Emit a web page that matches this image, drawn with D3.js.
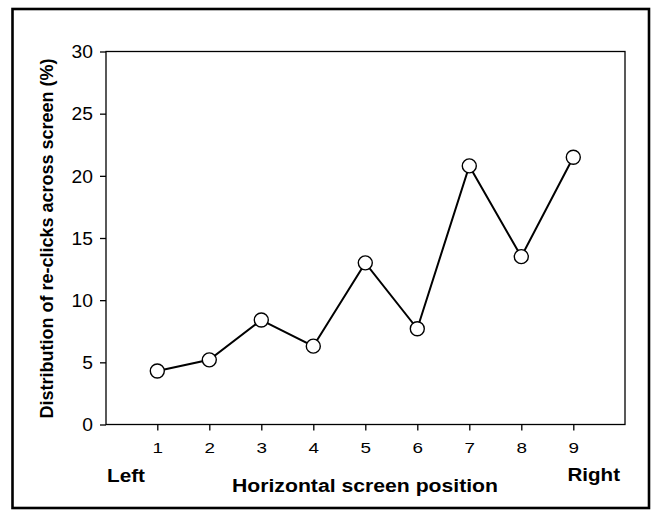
<!DOCTYPE html>
<html><head><meta charset="utf-8">
<script src="https://cdn.jsdelivr.net/npm/d3@7"></script>
<style>body{margin:0;background:#fff}svg{display:block}text{font-family:"Liberation Sans",Arial,sans-serif;fill:#000}</style>
</head><body><svg id="c" width="651" height="510"></svg>
<script>
const positions = [1, 2, 3, 4, 5, 6, 7, 8, 9];
const values = [4.3, 5.2, 8.4, 6.3, 13.0, 7.7, 20.8, 13.5, 21.5];
const yTicks = [0, 5, 10, 15, 20, 25, 30];
const xTicks = [1, 2, 3, 4, 5, 6, 7, 8, 9];
const yTitle = "Distribution of re-clicks across screen (%)";
const xTitle = "Horizontal screen position";
const leftLabel = "Left", rightLabel = "Right";

const svg = d3.select("#c");
const L = 106, R = 625, T = 51.5, B = 424.5;
const x = d3.scaleLinear().domain([0, 10]).range([L - 0.7, R + 0.3]);
const y = d3.scaleLinear().domain([0, 30]).range([B, T]);

function stretch(sel, k) {
  sel.each(function () {
    const w = this.getComputedTextLength();
    d3.select(this).attr("textLength", w * k).attr("lengthAdjust", "spacingAndGlyphs");
  });
}

// outer border
svg.append("rect").attr("x", 12.5).attr("y", 9).attr("width", 636.5).attr("height", 499)
  .attr("fill", "none").attr("stroke", "#000").attr("stroke-width", 2.6);

// plot frame
svg.append("rect").attr("x", L).attr("y", T).attr("width", R - L).attr("height", B - T)
  .attr("fill", "none").attr("stroke", "#000").attr("stroke-width", 1.3);

// y axis
const yAxis = svg.append("g").attr("transform", `translate(${L},0)`)
  .call(d3.axisLeft(y).tickValues(yTicks).tickSize(6).tickPadding(7).tickFormat(d3.format("d")));
yAxis.select(".domain").remove();
yAxis.selectAll("line").attr("stroke", "#000").attr("stroke-width", 1.3);
yAxis.selectAll("text").attr("font-size", 17.5).attr("font-family", "Liberation Sans, Arial, sans-serif").attr("dy", "0.36em");
stretch(yAxis.selectAll("text"), 1.1);

// x axis
const xAxis = svg.append("g").attr("transform", `translate(0,${B})`)
  .call(d3.axisBottom(x).tickValues(xTicks).tickSize(6).tickPadding(12).tickFormat(d3.format("d")));
xAxis.select(".domain").remove();
xAxis.selectAll("line").attr("stroke", "#000").attr("stroke-width", 1.3);
xAxis.selectAll("text").attr("font-size", 14.5).attr("font-family", "Liberation Sans, Arial, sans-serif");
stretch(xAxis.selectAll("text"), 1.3);

// line
const line = d3.line().x((d, i) => x(positions[i])).y(d => y(d));
svg.append("path").datum(values).attr("d", line)
  .attr("fill", "none").attr("stroke", "#000").attr("stroke-width", 2);

svg.selectAll("circle.pt").data(values).enter().append("circle").attr("class", "pt")
  .attr("cx", (d, i) => x(positions[i])).attr("cy", d => y(d)).attr("r", 7)
  .attr("fill", "#fff").attr("stroke", "#000").attr("stroke-width", 1.4);

// titles
const yt = svg.append("text").attr("transform", "translate(52.5,238.5) rotate(-90)")
  .attr("text-anchor", "middle").attr("font-size", 18).attr("font-weight", "bold").text(yTitle);

const xt = svg.append("text").attr("x", 365).attr("y", 491.5).attr("text-anchor", "middle")
  .attr("font-size", 17.5).attr("font-weight", "bold").text(xTitle);
xt.attr("textLength", 266).attr("lengthAdjust", "spacingAndGlyphs");

const lt = svg.append("text").attr("x", 107).attr("y", 481.5).attr("font-size", 17.5)
  .attr("font-weight", "bold").text(leftLabel);
lt.attr("textLength", 38).attr("lengthAdjust", "spacingAndGlyphs");

const rt = svg.append("text").attr("x", 567.5).attr("y", 481).attr("font-size", 17.5)
  .attr("font-weight", "bold").text(rightLabel);
rt.attr("textLength", 52.5).attr("lengthAdjust", "spacingAndGlyphs");
</script></body></html>
